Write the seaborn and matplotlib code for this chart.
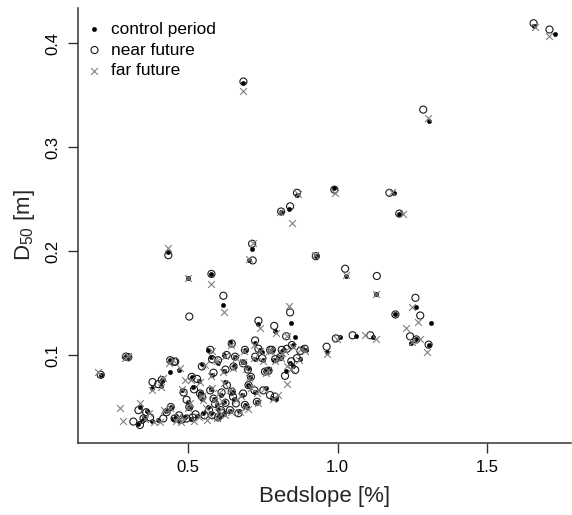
import matplotlib
matplotlib.use("Agg")
import matplotlib.pyplot as plt
import seaborn as sns
import pandas as pd

# ---------------- data ----------------
bedslope_control = [1.657, 1.727, 1.306, 0.685, 0.864, 0.989, 1.187, 1.206, 0.811, 0.839,
                    0.434, 0.714, 0.704, 0.927, 1.028, 1.127, 0.501, 0.578, 0.618, 0.843,
                    1.263, 1.193, 1.312, 1.245, 1.263, 1.304, 1.062, 1.118, 1.008, 0.963,
                    0.300, 0.290, 0.208, 0.735, 0.792, 0.856, 0.850, 0.880, 0.894, 0.780,
                    0.813, 0.808, 0.788, 0.875, 0.840, 0.850, 0.770, 0.826, 0.795, 0.724,
                    0.640, 0.690, 0.740, 0.746, 0.685, 0.724, 0.657, 0.620, 0.757, 0.707,
                    0.601, 0.575, 0.568, 0.546, 0.624, 0.652, 0.699, 0.724, 0.646, 0.575,
                    0.512, 0.516, 0.468, 0.440, 0.440, 0.412, 0.378, 0.409, 0.540, 0.585,
                    0.546, 0.690, 0.730, 0.696, 0.620, 0.600, 0.565, 0.640, 0.670, 0.550,
                    0.601, 0.504, 0.442, 0.340, 0.364, 0.345, 0.332, 0.351, 0.380, 0.400,
                    0.450, 0.470, 0.490, 0.510, 0.530, 0.460, 0.575, 0.620, 0.595, 0.655,
                    0.610, 0.680, 0.760, 0.780, 0.700, 0.535, 0.480, 0.425, 0.580, 0.620,
                    0.500, 0.820, 0.750]
d50_control = [0.416, 0.409, 0.325, 0.362, 0.254, 0.261, 0.256, 0.236, 0.238, 0.240,
               0.199, 0.202, 0.191, 0.195, 0.176, 0.159, 0.174, 0.178, 0.148, 0.131,
               0.1465, 0.139, 0.131, 0.112, 0.115, 0.110, 0.118, 0.117, 0.117, 0.103,
               0.098, 0.098, 0.081, 0.1295, 0.123, 0.117, 0.1096, 0.107, 0.105, 0.105,
               0.104, 0.098, 0.095, 0.096, 0.092, 0.089, 0.087, 0.085, 0.058, 0.112,
               0.113, 0.105, 0.105, 0.103, 0.0936, 0.096, 0.0984, 0.100, 0.085, 0.079,
               0.0926, 0.098, 0.105, 0.091, 0.0743, 0.089, 0.071, 0.064, 0.0647, 0.067,
               0.079, 0.0695, 0.0856, 0.095, 0.084, 0.076, 0.068, 0.070, 0.063, 0.058,
               0.058, 0.052, 0.055, 0.050, 0.055, 0.048, 0.050, 0.046, 0.046, 0.044,
               0.0407, 0.050, 0.050, 0.050, 0.0465, 0.037, 0.034, 0.039, 0.037, 0.0375,
               0.038, 0.037, 0.040, 0.038, 0.041, 0.041, 0.044, 0.043, 0.052, 0.058,
               0.062, 0.062, 0.068, 0.059, 0.088, 0.075, 0.066, 0.046, 0.081, 0.085,
               0.055, 0.105, 0.095]

bedslope_near = [1.655, 1.708, 1.286, 0.685, 0.864, 0.989, 1.173, 1.206, 0.811, 0.841,
                 0.434, 0.714, 0.716, 0.927, 1.025, 1.131, 0.504, 0.578, 0.618, 0.841,
                 1.260, 1.193, 1.276, 1.242, 1.263, 1.304, 1.050, 1.109, 0.994, 0.963,
                 0.300, 0.292, 0.208, 0.735, 0.788, 0.828, 0.847, 0.875, 0.890, 0.780,
                 0.813, 0.808, 0.791, 0.864, 0.845, 0.858, 0.769, 0.824, 0.790, 0.724,
                 0.646, 0.690, 0.735, 0.774, 0.684, 0.724, 0.657, 0.629, 0.757, 0.710,
                 0.600, 0.580, 0.574, 0.546, 0.630, 0.652, 0.702, 0.722, 0.646, 0.574,
                 0.512, 0.520, 0.457, 0.440, 0.453, 0.412, 0.381, 0.400, 0.540, 0.585,
                 0.546, 0.690, 0.730, 0.660, 0.625, 0.610, 0.570, 0.640, 0.668, 0.555,
                 0.600, 0.504, 0.442, 0.334, 0.360, 0.317, 0.339, 0.351, 0.373, 0.417,
                 0.455, 0.480, 0.495, 0.515, 0.525, 0.470, 0.580, 0.615, 0.590, 0.650,
                 0.612, 0.684, 0.751, 0.774, 0.700, 0.530, 0.485, 0.428, 0.585, 0.625,
                 0.495, 0.830, 0.748]
d50_near = [0.419, 0.413, 0.336, 0.363, 0.256, 0.259, 0.256, 0.236, 0.238, 0.243,
            0.196, 0.207, 0.191, 0.195, 0.183, 0.176, 0.137, 0.178, 0.157, 0.141,
            0.155, 0.139, 0.138, 0.118, 0.115, 0.110, 0.119, 0.119, 0.116, 0.108,
            0.098, 0.0985, 0.081, 0.133, 0.128, 0.118, 0.1096, 0.104, 0.106, 0.105,
            0.105, 0.098, 0.096, 0.097, 0.094, 0.0856, 0.085, 0.080, 0.060, 0.114,
            0.111, 0.105, 0.106, 0.105, 0.092, 0.0984, 0.0984, 0.100, 0.084, 0.079,
            0.095, 0.096, 0.105, 0.089, 0.071, 0.089, 0.071, 0.066, 0.0647, 0.066,
            0.079, 0.067, 0.0936, 0.095, 0.0936, 0.076, 0.074, 0.072, 0.063, 0.058,
            0.060, 0.052, 0.055, 0.0535, 0.054, 0.047, 0.047, 0.047, 0.044, 0.042,
            0.040, 0.050, 0.050, 0.047, 0.045, 0.036, 0.0327, 0.039, 0.040, 0.039,
            0.039, 0.038, 0.039, 0.040, 0.043, 0.042, 0.042, 0.044, 0.053, 0.060,
            0.064, 0.063, 0.066, 0.0615, 0.086, 0.077, 0.064, 0.045, 0.083, 0.086,
            0.057, 0.106, 0.097]

bedslope_far = [1.660, 1.708, 1.302, 0.685, 0.868, 0.991, 1.180, 1.217, 0.808, 0.849,
                0.434, 0.718, 0.704, 0.925, 1.028, 1.127, 0.501, 0.578, 0.620, 0.839,
                1.249, 1.227, 1.269, 1.248, 1.276, 1.298, 1.092, 1.129, 0.998, 0.963,
                0.298, 0.290, 0.200, 0.739, 0.794, 0.832, 0.852, 0.878, 0.892, 0.778,
                0.815, 0.810, 0.790, 0.870, 0.830, 0.845, 0.768, 0.830, 0.800, 0.720,
                0.643, 0.688, 0.742, 0.770, 0.685, 0.720, 0.660, 0.625, 0.760, 0.705,
                0.598, 0.590, 0.580, 0.555, 0.620, 0.650, 0.710, 0.730, 0.640, 0.580,
                0.510, 0.490, 0.473, 0.435, 0.450, 0.415, 0.378, 0.409, 0.545, 0.588,
                0.550, 0.695, 0.735, 0.700, 0.615, 0.605, 0.560, 0.645, 0.672, 0.562,
                0.598, 0.500, 0.440, 0.339, 0.370, 0.273, 0.284, 0.355, 0.385, 0.405,
                0.460, 0.475, 0.488, 0.520, 0.535, 0.465, 0.570, 0.625, 0.600, 0.660,
                0.605, 0.678, 0.755, 0.785, 0.695, 0.540, 0.478, 0.420, 0.578, 0.618,
                0.505, 0.825, 0.752]
d50_far = [0.415, 0.407, 0.328, 0.354, 0.255, 0.256, 0.257, 0.236, 0.238, 0.227,
           0.203, 0.208, 0.192, 0.196, 0.177, 0.159, 0.174, 0.168, 0.141, 0.147,
           0.146, 0.126, 0.132, 0.113, 0.115, 0.103, 0.119, 0.115, 0.115, 0.101,
           0.099, 0.0975, 0.084, 0.126, 0.121, 0.118, 0.108, 0.106, 0.104, 0.104,
           0.102, 0.097, 0.094, 0.095, 0.089, 0.087, 0.086, 0.072, 0.062, 0.110,
           0.110, 0.104, 0.104, 0.104, 0.0936, 0.097, 0.097, 0.099, 0.083, 0.078,
           0.094, 0.095, 0.104, 0.090, 0.073, 0.088, 0.068, 0.063, 0.066, 0.068,
           0.076, 0.076, 0.088, 0.092, 0.095, 0.078, 0.066, 0.069, 0.061, 0.057,
           0.057, 0.050, 0.054, 0.048, 0.056, 0.046, 0.049, 0.045, 0.045, 0.0375,
           0.039, 0.049, 0.049, 0.0535, 0.044, 0.0487, 0.037, 0.038, 0.036, 0.036,
           0.037, 0.036, 0.038, 0.037, 0.040, 0.040, 0.043, 0.042, 0.051, 0.057,
           0.063, 0.061, 0.067, 0.058, 0.087, 0.074, 0.067, 0.047, 0.080, 0.084,
           0.054, 0.104, 0.094]

series_labels = ["control period", "near future", "far future"]
x_ticks = [0.5, 1.0, 1.5]
y_ticks = [0.1, 0.2, 0.3, 0.4]

# ---------------- style ----------------
sns.set_style("ticks")
plt.rcParams["font.family"] = ["Liberation Sans", "DejaVu Sans"]
plt.rcParams["mathtext.fontset"] = "custom"
plt.rcParams["mathtext.rm"] = "Liberation Sans"
plt.rcParams["mathtext.it"] = "Liberation Sans:italic"

W, H = 572, 515
fig = plt.figure(figsize=(W / 100, H / 100), dpi=100)
left, right, top, bottom = 78, 571, 8, 443
ax = fig.add_axes([left / W, 1 - bottom / H, (right - left) / W, (bottom - top) / H])

df_c = pd.DataFrame({"x": bedslope_control, "y": d50_control})
df_n = pd.DataFrame({"x": bedslope_near, "y": d50_near})
df_f = pd.DataFrame({"x": bedslope_far, "y": d50_far})

sns.scatterplot(data=df_c, x="x", y="y", ax=ax, marker="o", s=10, color="black",
                edgecolor="black", linewidth=0.3, label=series_labels[0], zorder=3)
sns.scatterplot(data=df_n, x="x", y="y", ax=ax, marker="o", s=26, facecolors="none",
                edgecolors="#1a1a1a", linewidth=0.8, label=series_labels[1], zorder=4)
sns.scatterplot(data=df_f, x="x", y="y", ax=ax, marker="x", s=24, color="#808080",
                linewidth=0.8, label=series_labels[2], zorder=5)

ax.set_xlim(0.132, 1.78)
ax.set_ylim(0.0154, 0.4337)
ax.set_xticks(x_ticks)
ax.set_xticklabels([f"{v:.1f}" for v in x_ticks])
ax.set_yticks(y_ticks)
ax.set_yticklabels([f"{v:.1f}" for v in y_ticks], rotation=90, va="center")

for side in ["top", "right"]:
    ax.spines[side].set_visible(False)
for side in ["left", "bottom"]:
    ax.spines[side].set_color("#333333")
    ax.spines[side].set_linewidth(1.1)
ax.tick_params(axis="both", direction="out", length=7.5, width=1.0, color="#333333",
               labelsize=12, labelcolor="black", pad=5)

ax.set_xlabel("Bedslope [%]", fontsize=16, labelpad=8)
ax.set_ylabel(r"$\mathrm{D}_{50}$ [m]", fontsize=16, labelpad=6)

leg = ax.legend(loc="upper left", bbox_to_anchor=(0.016, 0.968), frameon=False,
                fontsize=12.4, handlelength=1.0, handletextpad=0.45,
                labelspacing=0.32, borderpad=0, borderaxespad=0)
for t in leg.get_texts():
    t.set_color("black")

fig.savefig("out.png", dpi=100)
